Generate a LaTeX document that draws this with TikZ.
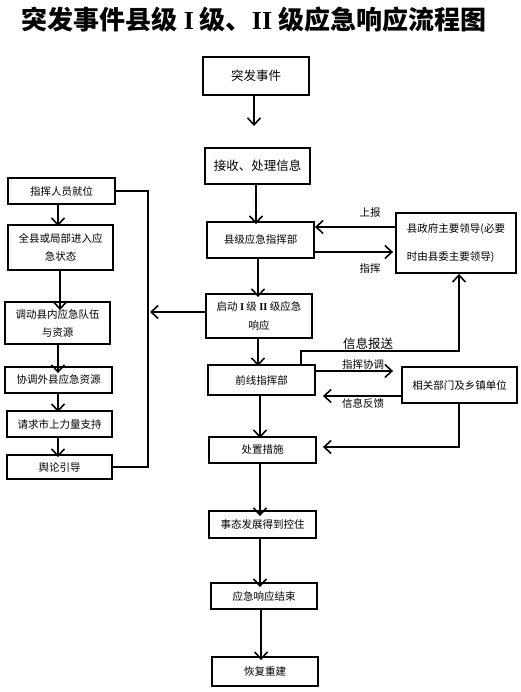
\documentclass[tikz,border=0pt]{standalone}
\usepackage{fontspec}
\newfontfamily\cjk{Noto Sans CJK SC}
\newfontfamily\lser{Liberation Serif}
\usetikzlibrary{arrows.meta}
\begin{document}
\begin{tikzpicture}[x=1pt,y=-1pt,
  box/.style={draw, line width=1.9pt, inner sep=0pt, align=center,
    font=\cjk\fontsize{10.5}{18}\selectfont},
  big/.style={font=\cjk\fontsize{12.5}{15}\selectfont},
  sz/.style 2 args={minimum width=#1pt, minimum height=#2pt},
  ln/.style={line width=1.6pt},
  arr/.style={line width=1.6pt, -{Straight Barb[length=7pt,width=13pt,line width=1.6pt]}},
  lab/.style={inner sep=0pt, font=\cjk\fontsize{10.5}{12}\selectfont}]
\useasboundingbox (0,0) rectangle (521,692);
% title
\node[inner sep=0pt, font=\cjk\bfseries\fontsize{26}{30}\selectfont] (title) at (254,20)
  {突发事件县级 {\lser\bfseries I} 级、{\lser\bfseries II} 级应急响应流程图};
% main column
\node[box, big, sz={106}{38}] (n1) at (256,76) {突发事件};
\node[box, big, sz={105}{36}] (n2) at (257.5,166) {接收、处理信息};
\node[box, sz={107}{36}] (n3) at (260.5,240) {县级应急指挥部};
\node[box, sz={120}{60}, align=left] (gov) at (456,243) {县政府主要领导(必要\\[10pt]时由县委主要领导)};
\node[box, sz={106}{44}, font=\cjk\fontsize{10.5}{19}\selectfont] (n4) at (259,316)
  {启动 {\lser\bfseries I} 级 {\lser\bfseries II} 级应急\\响应};
\node[box, sz={107}{30}] (n5) at (261.5,380) {前线指挥部};
\node[box, sz={115}{36}] (dept) at (459.5,385) {相关部门及乡镇单位};
\node[box, sz={107}{26}] (n6) at (262.5,450) {处置措施};
\node[box, sz={107}{27}] (n7) at (262.5,524.5) {事态发展得到控住};
\node[box, sz={106}{26}] (n8) at (264,596) {应急响应结束};
\node[box, sz={106}{29}] (n9) at (265,671.5) {恢复重建};
% left column
\node[box, sz={107}{26}] (l1) at (61.5,191) {指挥人员就位};
\node[box, sz={105}{45}] (l2) at (60.5,247.5) {全县或局部进入应\\急状态};
\node[box, sz={105}{42}] (l3) at (57.5,323) {调动县内应急队伍\\与资源};
\node[box, sz={107}{26}] (l4) at (58.5,380) {协调外县应急资源};
\node[box, sz={105}{26}] (l5) at (59.5,424) {请求市上力量支持};
\node[box, sz={105}{24}] (l6) at (59.5,467) {舆论引导};
% labels
\node[lab] (t1) at (370,213) {上报};
\node[lab] (t2) at (370,269) {指挥};
\node[lab, font=\cjk\fontsize{12.5}{14}\selectfont] (t3) at (368,344) {信息报送};
\node[lab] (t4) at (363,365) {指挥协调};
\node[lab] (t5) at (363,403) {信息反馈};
% helper coordinates
\coordinate (c1) at (254,126);
\coordinate (vx) at (148,0);
\coordinate (lt) at (150,0);
\coordinate (rp) at (459,351);
\coordinate (sp) at (301,351);
\coordinate (dp) at (459,447);
% connectors main
\draw[arr] (n1.south -| c1) -- (c1);
\draw[arr] (n2.south -| 256,0) -- ([yshift=-3pt]n3.north -| 256,0);
\draw[arr] (gov.west |- 0,227) -- (n3.east |- 0,227);
\draw[arr] (n3.east |- 0,252) -- ([xshift=-2pt]gov.west |- 0,252);
\draw[arr] (n3.south -| 258,0) -- ([yshift=-4pt]n4.north -| 258,0);
\draw[arr] (n4.west |- 0,312) -- (lt |- 0,312);
\draw[arr] (n4.south -| 258,0) -- ([yshift=-2pt]n5.north -| 258,0);
\draw[arr] (n5.north -| sp) -- (sp) -- (rp) -- (gov.south -| rp);
\draw[arr] (n5.east |- 0,371) -- ([xshift=-8pt]dept.west |- 0,371);
\draw[arr] (dept.west |- 0,396) -- ([xshift=7pt]n5.east |- 0,396);
\draw[arr] (dept.south -| dp) -- (dp) -- ([xshift=6pt]n6.east |- dp);
\draw[arr] (n5.south -| 260,0) -- ([yshift=-2pt]n6.north -| 260,0);
\draw[arr] (n6.south -| 260,0) -- ([yshift=-6pt]n7.north -| 260,0);
\draw[arr] (n7.south -| 260,0) -- ([yshift=-5pt]n8.north -| 260,0);
\draw[arr] (n8.south -| 261,0) -- ([yshift=-4pt]n9.north -| 261,0);
% connectors left
\draw[arr] (l1.south -| 58,0) -- ([yshift=-2pt]l2.north -| 58,0);
\draw[arr] (l2.south -| 60,0) -- ([yshift=-9pt]l3.north -| 60,0);
\draw[arr] (l3.south -| 58,0) -- ([yshift=-7pt]l4.north -| 58,0);
\draw[arr] (l4.south -| 58,0) -- ([yshift=-2pt]l5.north -| 58,0);
\draw[arr] (l5.south -| 58,0) -- ([yshift=-3pt]l6.north -| 58,0);
\draw[ln] (l1.east) -- (l1.east -| vx) -- (l6.east -| vx) -- (l6.east);
\end{tikzpicture}
\end{document}
